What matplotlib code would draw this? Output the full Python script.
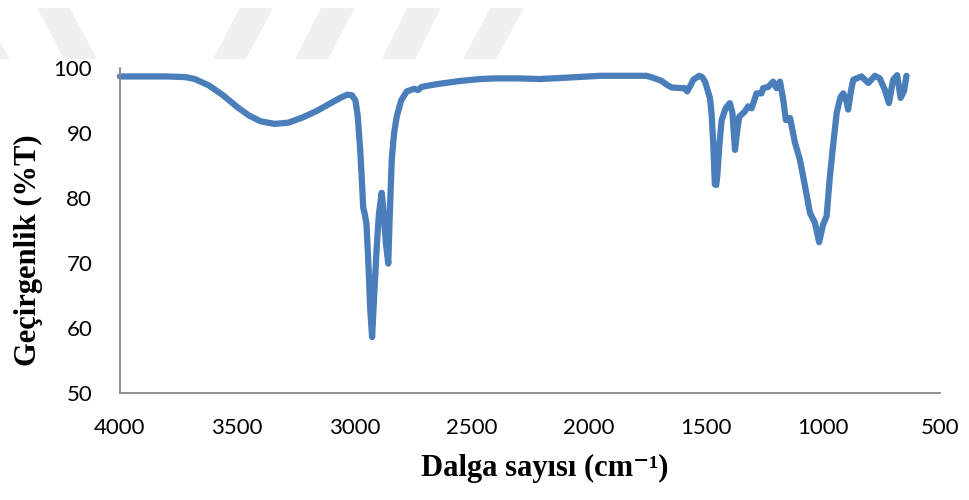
# FTIR spectrum: transmittance vs wavenumber

import matplotlib.pyplot as plt
from matplotlib.patches import Polygon

# --- Spectrum data ---
wavenumber = [4000, 3900, 3800, 3720, 3680, 3620, 3560, 3500, 3450, 3400,
              3340, 3280, 3220, 3160, 3100, 3060, 3030, 3010, 2995, 2985,
              2975, 2968, 2962, 2955, 2948, 2940, 2932, 2924, 2915, 2905,
              2895, 2883, 2875, 2865, 2855, 2848, 2840, 2830, 2819, 2800,
              2776, 2745, 2728, 2712, 2650, 2550, 2463, 2400, 2300, 2208,
              2100, 2000, 1951, 1850, 1752, 1717, 1688, 1665, 1645, 1600,
              1589, 1579, 1565, 1553, 1528, 1515, 1503, 1482, 1475, 1468,
              1461, 1455, 1451, 1442, 1432, 1415, 1397, 1386, 1375, 1365,
              1357, 1333, 1319, 1304, 1283, 1262, 1255, 1233, 1212, 1198,
              1183, 1169, 1158, 1150, 1140, 1119, 1098, 1076, 1055, 1034,
              1016, 999, 984, 970, 955, 941, 925, 913, 900, 892,
              880, 870, 835, 806, 778, 757, 735, 718, 700, 683,
              668, 654, 643]
transmittance = [98.7, 98.7, 98.7, 98.6, 98.3, 97.3, 95.8, 94.0, 92.7, 91.8,
                 91.4, 91.6, 92.4, 93.4, 94.6, 95.4, 95.9, 95.8, 95.0, 92.5,
                 87.5, 83.0, 78.5, 77.5, 76.0, 70.0, 63.0, 58.6, 65.0, 72.0,
                 77.5, 80.8, 78.0, 73.0, 69.9, 78.0, 86.0, 90.0, 92.5, 95.0,
                 96.4, 96.8, 96.6, 97.1, 97.5, 98.0, 98.3, 98.4, 98.4, 98.3,
                 98.5, 98.7, 98.8, 98.8, 98.8, 98.4, 98.0, 97.4, 97.0, 96.9,
                 96.9, 96.4, 97.3, 98.2, 98.8, 98.6, 97.9, 95.4, 93.0, 88.5,
                 82.1, 82.0, 83.3, 88.0, 92.0, 93.8, 94.6, 93.1, 87.4, 90.5,
                 92.5, 93.3, 94.1, 93.8, 96.1, 96.1, 96.9, 97.1, 97.9, 96.9,
                 97.9, 95.1, 92.0, 92.0, 92.3, 88.5, 85.9, 81.8, 77.7, 76.2,
                 73.2, 75.9, 77.2, 83.3, 88.5, 93.1, 95.5, 96.1, 95.0, 93.6,
                 96.5, 98.2, 98.7, 97.7, 98.8, 98.4, 96.6, 94.6, 98.2, 98.9,
                 95.4, 96.4, 98.8]

x_ticks = [4000, 3500, 3000, 2500, 2000, 1500, 1000, 500]
y_ticks = [50, 60, 70, 80, 90, 100]

W, H = 969, 500
fig = plt.figure(figsize=(W / 100, H / 100), dpi=100)

# faint background stripes along the top edge (pixel coords)
stripes = [
    [(0, 42), (10, 59), (0, 59)],
    [(37, 8), (70, 8), (97, 59), (64, 59)],
    [(240, 8), (273, 8), (246, 59), (213, 59)],
    [(321, 8), (355, 8), (328, 59), (295, 59)],
    [(407, 8), (441, 8), (415, 59), (382, 59)],
    [(490, 8), (524, 8), (496, 59), (463, 59)],
]
for pts in stripes:
    fig.patches.append(Polygon([(px / W, 1 - py / H) for px, py in pts],
                               closed=True, transform=fig.transFigure,
                               facecolor='#f0f0f0', edgecolor='none', zorder=0))

ax = fig.add_axes([120 / W, 1 - 393 / H, 820 / W, 325 / H])
ax.patch.set_alpha(0)
ax.plot(wavenumber, transmittance, color='#4a7ebb', lw=4.5,
        solid_joinstyle='round', solid_capstyle='round', clip_on=False)

ax.set_xlim(4000, 500)
ax.set_ylim(50, 100)
ax.set_xticks(x_ticks)
ax.set_yticks(y_ticks)
for lbl in ax.get_xticklabels() + ax.get_yticklabels():
    lbl.set_fontfamily('Lato')
    lbl.set_fontsize(16)
ax.tick_params(length=0)
ax.tick_params(axis='x', pad=18)
ax.tick_params(axis='y', pad=20)

for side in ['top', 'right']:
    ax.spines[side].set_visible(False)
for side in ['left', 'bottom']:
    ax.spines[side].set_color('#888888')
    ax.spines[side].set_linewidth(1.3)

ax.set_xlabel('Dalga sayısı (cm⁻¹)', family=['Liberation Serif', 'DejaVu Serif'],
              fontweight='bold', fontsize=22, va='center')
ax.xaxis.set_label_coords((545 - 120) / 820, (393 - 468) / 325)
ax.set_ylabel('Geçirgenlik (%T)', family='Liberation Serif',
              fontweight='bold', fontsize=22, va='center', ha='center')
ax.yaxis.set_label_coords((28 - 120) / 820, (393 - 250) / 325)

fig.savefig('out.png', dpi=100)
